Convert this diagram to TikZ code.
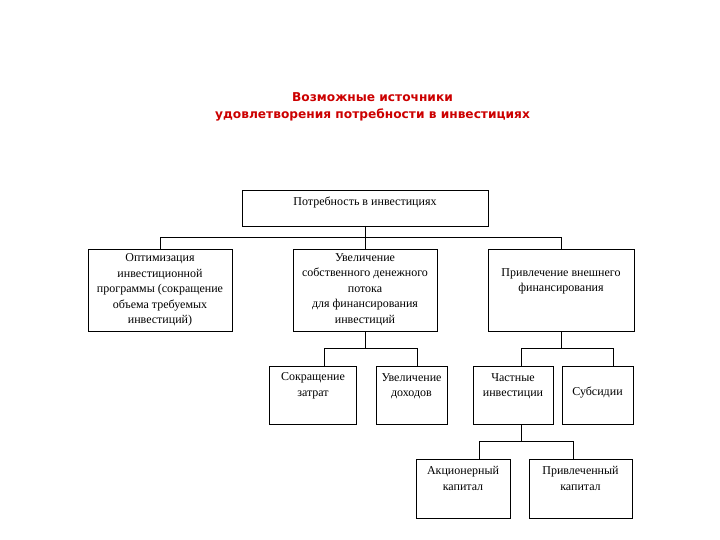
\documentclass[tikz,border=0pt]{standalone}
\usepackage{fontspec}
\setmainfont{Liberation Serif}
\newfontfamily\titlefont{DejaVu Sans}
\usetikzlibrary{calc}
\definecolor{titlered}{RGB}{204,0,0}
\begin{document}
\begin{tikzpicture}[x=1pt,y=-1pt,
  box/.style={draw, line width=0.8pt, inner sep=0pt, outer sep=0pt},
  every label/.style={align=center, font=\fontsize{12}{15.5}\selectfont, inner sep=0pt},
  wire/.style={line width=0.8pt}]
\useasboundingbox (0,0) rectangle (720,540);
\node[font=\titlefont\bfseries\fontsize{12.2}{17}\selectfont, text=titlered, align=center] (title) at (372.5,106.5) {Возможные источники\\удовлетворения потребности в инвестициях};

\node[box, minimum width=246pt, minimum height=36pt, label={[yshift=6pt]center:Потребность в инвестициях}] (top) at (365,208) {};
\node[box, minimum width=144pt, minimum height=82pt, label={[yshift=0pt]center:Оптимизация\\инвестиционной\\программы (сокращение\\объема требуемых\\инвестиций)}] (b1) at (160,290) {};
\node[box, minimum width=144pt, minimum height=82pt, label={[yshift=0.5pt]center:Увеличение\\собственного денежного\\потока\\для финансирования\\инвестиций}] (b2) at (365,290) {};
\node[box, minimum width=146pt, minimum height=82pt, label={[yshift=8.5pt]center:Привлечение внешнего\\финансирования}] (b3) at (561,290) {};

\node[box, minimum width=87pt, minimum height=58pt, label={[yshift=9pt]center:Сокращение\\затрат}] (s1) at (313,395) {};
\node[box, minimum width=71pt, minimum height=58pt, label={[yshift=9pt]center:Увеличение\\доходов}] (s2) at (411.5,395) {};
\node[box, minimum width=80pt, minimum height=58pt, label={[yshift=9pt]center:Частные\\инвестиции}] (s3) at (513,395) {};
\node[box, minimum width=71pt, minimum height=58pt, label={[yshift=3pt]center:Субсидии}] (s4) at (597.5,395) {};

\node[box, minimum width=94pt, minimum height=59pt, label={[yshift=10pt]center:Акционерный\\капитал}] (t1) at (463,488.5) {};
\node[box, minimum width=103pt, minimum height=59pt, label={[yshift=10pt]center:Привлеченный\\капитал}] (t2) at (580.5,488.5) {};

% level 1 connectors
\coordinate (bus) at (0,237);
\draw[wire] (top.south) -- (b2.north);
\draw[wire] (b1.north) -- (b1.north |- bus) -- (b3.north |- bus) -- (b3.north);

% level 2 connectors
\coordinate (j2) at (0,348);
\coordinate (c1) at ($(s1.north)+(11,0)$);
\coordinate (c2) at ($(s2.north)+(5.5,0)$);
\coordinate (c3) at ($(s3.north)+(8,0)$);
\coordinate (c4) at ($(s4.north)+(15.5,0)$);
\draw[wire] (b2.south) -- (b2.south |- j2);
\draw[wire] (c1) -- (c1 |- j2) -- (c2 |- j2) -- (c2);
\draw[wire] (b3.south) -- (b3.south |- j2);
\draw[wire] (c3) -- (c3 |- j2) -- (c4 |- j2) -- (c4);

% level 3 connectors
\coordinate (j3) at (0,441);
\coordinate (d0) at ($(s3.south)+(8,0)$);
\coordinate (d1) at ($(t1.north)+(16,0)$);
\coordinate (d2) at ($(t2.north)+(-7.5,0)$);
\draw[wire] (d0) -- (d0 |- j3);
\draw[wire] (d1) -- (d1 |- j3) -- (d2 |- j3) -- (d2);
\end{tikzpicture}
\end{document}
